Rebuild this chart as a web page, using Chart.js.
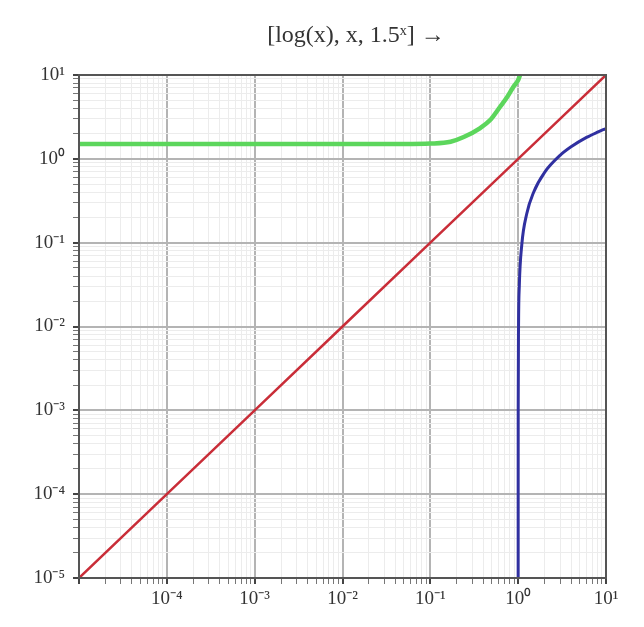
<!DOCTYPE html>
<html>
<head>
<meta charset="utf-8">
<script src="https://cdn.jsdelivr.net/npm/chart.js@4.4.1/dist/chart.umd.min.js"></script>
<style>
  html, body { margin: 0; padding: 0; background: #fff; }
  #wrap { width: 644px; height: 627px; }
</style>
</head>
<body>
<div id="wrap"><canvas id="plot" width="644" height="627"></canvas></div>
<script>
// values
const titleText = '[log(x), x, 1.5ˣ] \u2192';

const redX = [1e-5, 1e-4, 1e-3, 1e-2, 1e-1, 1, 10];
const redY = [1e-5, 1e-4, 1e-3, 1e-2, 1e-1, 1, 10];

const blueX = [1.00001, 1.0001, 1.001, 1.01, 1.03, 1.1, 1.25, 1.5, 2, 3, 4, 6, 8, 10];
const blueY = [0.00001, 0.0001, 0.001, 0.01, 0.03, 0.095, 0.22, 0.4, 0.69, 1.1, 1.39, 1.8, 2.08, 2.3];

const greenX = [1e-5, 1e-4, 1e-3, 1e-2, 0.05, 0.1, 0.17, 0.24, 0.37, 0.48, 0.62, 0.75, 0.88, 1.0, 1.05];
const greenY = [1.5, 1.5, 1.5, 1.5, 1.5, 1.52, 1.6, 1.82, 2.33, 2.9, 4.15, 5.46, 7.2, 8.7, 10];

const minExp = -5;
const maxExp = 1;

// tick positions: 1..9 in every decade
const tickValues = [];
for (let e = minExp; e < maxExp; e++) {
  for (let m = 1; m <= 9; m++) tickValues.push(m * Math.pow(10, e));
}
tickValues.push(Math.pow(10, maxExp));

const supers = { '-': '\u207B', '0': '\u2070', '1': '\u00B9', '2': '\u00B2', '3': '\u00B3',
  '4': '\u2074', '5': '\u2075', '6': '\u2076', '7': '\u2077', '8': '\u2078', '9': '\u2079' };

function decadeOf(v) {
  const l = Math.log10(v);
  const r = Math.round(l);
  return Math.abs(l - r) < 1e-6 ? r : null;
}

function expLabel(e) {
  return '10' + String(e).split('').map(c => supers[c]).join('');
}

function pts(xs, ys) {
  return xs.map((x, i) => ({ x: x, y: ys[i] }));
}

const gridColor = ctx => decadeOf(ctx.tick.value) !== null ? '#b4b4b4' : '#ececec';
const gridWidth = ctx => decadeOf(ctx.tick.value) !== null ? 2 : 1;
const tickColor = ctx => decadeOf(ctx.tick.value) !== null ? '#444' : '#777';

// frame around the plot area and the title above it
const framePlugin = {
  id: 'frame',
  afterDatasetsDraw(chart) {
    const a = chart.chartArea;
    const c = chart.ctx;
    c.save();
    c.strokeStyle = '#555';
    c.lineWidth = 2;
    c.strokeRect(a.left, a.top, a.right - a.left, a.bottom - a.top);
    c.fillStyle = '#333';
    c.font = '24px "Liberation Serif"';
    c.textAlign = 'center';
    c.textBaseline = 'middle';
    c.fillText(titleText, 356, 36);
    c.restore();
  }
};

const tickFont = { family: 'Liberation Serif', size: 19 };

new Chart(document.getElementById('plot'), {
  type: 'line',
  data: {
    datasets: [
      { label: 'x', data: pts(redX, redY), borderColor: '#c92d38', borderWidth: 2.5 },
      { label: 'log(x)', data: pts(blueX, blueY), borderColor: '#3030a0', borderWidth: 3, cubicInterpolationMode: 'monotone' },
      { label: '1.5', data: pts(greenX, greenY), borderColor: '#5cd65c', borderWidth: 4.5, cubicInterpolationMode: 'monotone' }
    ]
  },
  options: {
    responsive: false,
    animation: false,
    elements: { point: { radius: 0 } },
    layout: { padding: { left: 0, right: 38, top: 75, bottom: 0 } },
    plugins: {
      legend: { display: false },
      tooltip: { enabled: false },
      title: { display: false }
    },
    scales: {
      x: {
        type: 'logarithmic',
        min: Math.pow(10, minExp),
        max: Math.pow(10, maxExp),
        afterBuildTicks: s => { s.ticks = tickValues.map(v => ({ value: v })); },
        afterFit: s => { s.height = 49; },
        ticks: {
          autoSkip: false,
          maxRotation: 0,
          padding: 4,
          color: '#333',
          font: tickFont,
          callback: v => {
            const e = decadeOf(v);
            return e !== null && e > minExp ? expLabel(e) : '';
          }
        },
        grid: { color: gridColor, lineWidth: gridWidth, tickColor: tickColor, tickLength: 6 },
        border: { color: '#555', width: 2 }
      },
      y: {
        type: 'logarithmic',
        min: Math.pow(10, minExp),
        max: Math.pow(10, maxExp),
        afterBuildTicks: s => { s.ticks = tickValues.map(v => ({ value: v })); },
        afterFit: s => { s.width = 79; },
        ticks: {
          autoSkip: false,
          padding: 8,
          color: '#333',
          font: tickFont,
          callback: v => {
            const e = decadeOf(v);
            return e !== null ? expLabel(e) : '';
          }
        },
        grid: { color: gridColor, lineWidth: gridWidth, tickColor: tickColor, tickLength: 6 },
        border: { color: '#555', width: 2 }
      }
    }
  },
  plugins: [framePlugin]
});
</script>
</body>
</html>
